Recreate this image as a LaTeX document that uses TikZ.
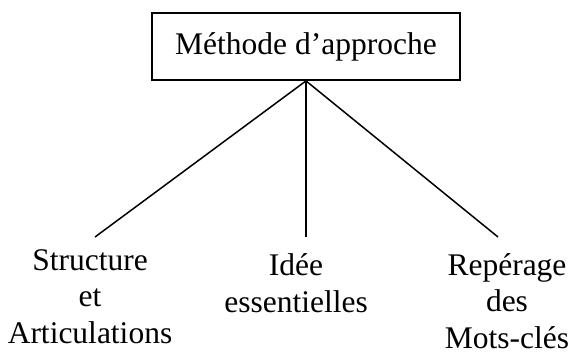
\documentclass[tikz,border=0pt]{standalone}
\usepackage{fontspec}
\setmainfont{Liberation Serif}
\tikzset{
  titlebox/.style={draw,line width=1.8pt,minimum width=308pt,minimum height=67pt,inner sep=0pt,font=\fontsize{31.5}{36.5}\selectfont},
  branchtext/.style={align=center,inner sep=0pt,anchor=base,font=\fontsize{31.5}{36.5}\selectfont},
  branch/.style={line width=1.5pt}
}
\begin{document}
\begin{tikzpicture}[x=1pt,y=-1pt]
\useasboundingbox (0,0) rectangle (574,356);
\node [titlebox] (methode) at (306,46.5) {Méthode d’approche};
% les trois branches
\coordinate (structure end) at (95,237);
\coordinate (idee end) at (306,237);
\coordinate (reperage end) at (498,237);
\node [branchtext] (structure) at (90,343) {Structure\\et\\Articulations};
\node [branchtext] (idee) at (296,312) {Idée\\essentielles};
\node [branchtext] (reperage) at (507,348) {Repérage\\des\\Mots-clés};
\draw [branch] (methode.south) -- (structure end);
\draw [branch] (methode.south) -- (idee end);
\draw [branch] (methode.south) -- (reperage end);
\end{tikzpicture}
\end{document}
